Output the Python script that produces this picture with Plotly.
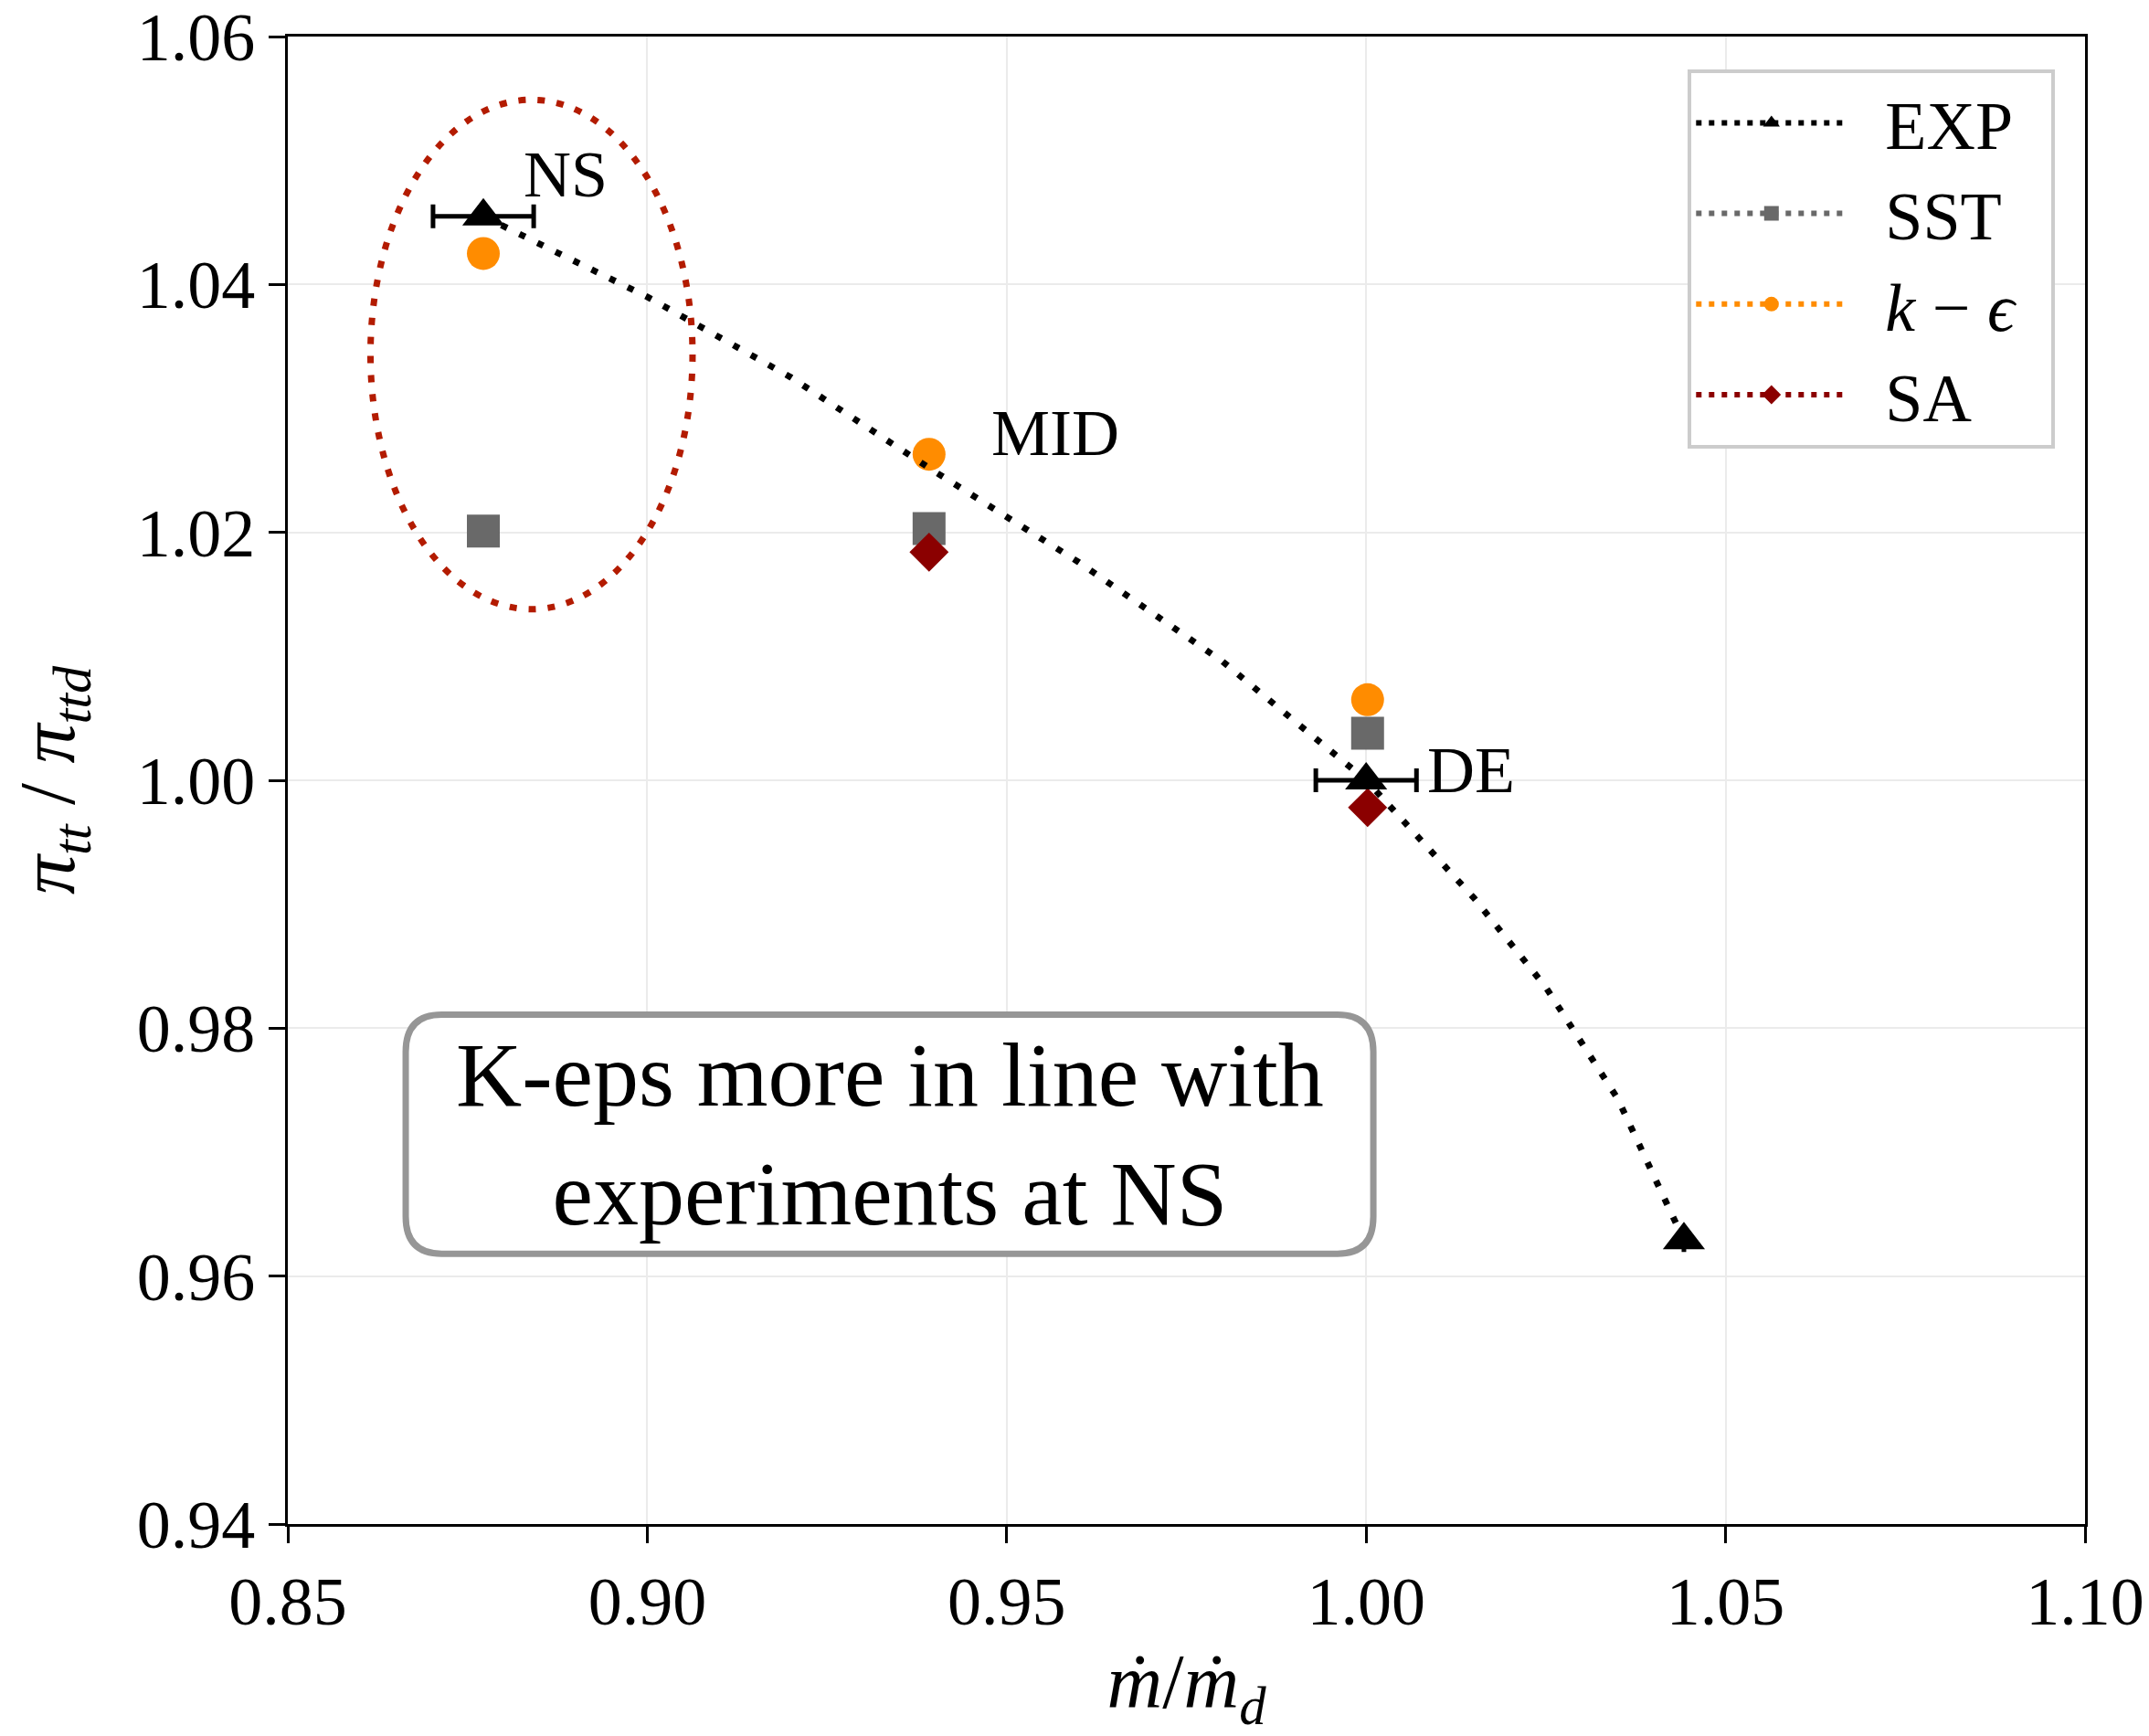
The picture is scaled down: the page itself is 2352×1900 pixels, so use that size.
import plotly.graph_objects as go

# ---------------- data ----------------
exp_x = [0.8772, 1.0000, 1.0442]
exp_y = [1.0455, 1.0000, 0.9629]
exp_err_x = [0.007, 0.007, 0.0]

curve_x = [0.8772, 0.9000, 0.9200, 0.9400, 0.9600, 0.9800, 1.0000, 1.0150, 1.0250, 1.0350, 1.0442]
curve_y = [1.0455, 1.0390, 1.0325, 1.0249, 1.0176, 1.0096, 1.0000, 0.9905, 0.9833, 0.9743, 0.9629]

sst_x = [0.8772, 0.9392, 1.0002]
sst_y = [1.0201, 1.0203, 1.0038]

ke_x = [0.8772, 0.9392, 1.0002]
ke_y = [1.0425, 1.0263, 1.0065]

sa_x = [0.9392, 1.0002]
sa_y = [1.0184, 0.9978]

point_labels = ["NS", "MID", "DE"]
label_x = [0.8825, 0.9476, 1.0082]
label_y = [1.0489, 1.0280, 1.0008]

x_ticks = [0.85, 0.90, 0.95, 1.00, 1.05, 1.10]
y_ticks = [0.94, 0.96, 0.98, 1.00, 1.02, 1.04, 1.06]

note_text = "K-eps more in line with<br>experiments at NS"

# ---------------- style ----------------
FONT = "Liberation Serif, Times New Roman, serif"
C_EXP = "black"
C_SST = "#696969"
C_KE = "#ff8c00"
C_SA = "#8b0000"
C_ELL = "#b31b00"
SP = "\u00a0\u00a0"

fig = go.Figure()

# legend-only entries
legend_specs = [
    (SP + "EXP" + SP, C_EXP, "triangle-up"),
    (SP + "SST", C_SST, "square"),
    (SP + "<i>k</i> − <i>ϵ</i>", C_KE, "circle"),
    (SP + "SA", C_SA, "diamond"),
]
for name, col, sym in legend_specs:
    fig.add_trace(go.Scatter(
        x=[None], y=[None], mode="lines+markers", name=name,
        line=dict(color=col, width=6, dash="6px,8px"),
        marker=dict(symbol=sym, color=col, size=16),
        showlegend=True,
    ))

# data traces
fig.add_trace(go.Scatter(x=sst_x, y=sst_y, mode="markers", showlegend=False,
                         marker=dict(symbol="square", color=C_SST, size=36)))
fig.add_trace(go.Scatter(x=ke_x, y=ke_y, mode="markers", showlegend=False,
                         marker=dict(symbol="circle", color=C_KE, size=36)))
fig.add_trace(go.Scatter(x=sa_x, y=sa_y, mode="markers", showlegend=False,
                         marker=dict(symbol="diamond", color=C_SA, size=33)))
fig.add_trace(go.Scatter(x=curve_x, y=curve_y, mode="lines", showlegend=False,
                         line=dict(color=C_EXP, width=7, dash="7px,15px")))
fig.add_trace(go.Scatter(x=exp_x, y=exp_y, mode="markers", showlegend=False,
                         marker=dict(symbol="triangle-up", color=C_EXP, size=40),
                         error_x=dict(type="data", array=exp_err_x, color="black",
                                      thickness=5, width=13, visible=True)))

# point labels
for t, xx, yy in zip(point_labels, label_x, label_y):
    fig.add_annotation(x=xx, y=yy, text=t, showarrow=False, xanchor="left",
                       yanchor="middle", font=dict(family=FONT, size=72, color="black"))

# ellipse highlighting NS
fig.add_shape(type="circle", xref="x", yref="y",
              x0=0.8615, x1=0.9063, y0=1.0138, y1=1.0549,
              line=dict(color=C_ELL, width=7, dash="8px,13px"), layer="above")

# rounded note box
bx0, bx1, by0, by1 = 0.8664, 1.0010, 0.9618, 0.9811
rx, ry = 0.0050, 0.0030
path = (f"M{bx0+rx},{by1} L{bx1-rx},{by1} Q{bx1},{by1} {bx1},{by1-ry} "
        f"L{bx1},{by0+ry} Q{bx1},{by0} {bx1-rx},{by0} L{bx0+rx},{by0} "
        f"Q{bx0},{by0} {bx0},{by0+ry} L{bx0},{by1-ry} Q{bx0},{by1} {bx0+rx},{by1} Z")
fig.add_shape(type="path", xref="x", yref="y", path=path,
              line=dict(color="#969696", width=7), fillcolor="white", layer="above")
fig.add_annotation(x=(bx0 + bx1) / 2, y=(by0 + by1) / 2, text=note_text, showarrow=False,
                   font=dict(family=FONT, size=100, color="black"), align="center")

axis_common = dict(
    showline=True, linecolor="black", linewidth=3, mirror=True,
    ticks="outside", ticklen=18, tickwidth=3, tickcolor="black",
    showgrid=True, gridcolor="#ebebeb", gridwidth=2, zeroline=False,
    tickfont=dict(family=FONT, size=74, color="black"),
    tickformat=".2f", automargin=False, ticklabeloverflow="allow",
)

fig.update_layout(
    width=2352, height=1900,
    margin=dict(l=315, r=70, t=40, b=232),
    paper_bgcolor="white", plot_bgcolor="white",
    font=dict(family=FONT, color="black"),
    xaxis=dict(range=[0.85, 1.10], tickvals=x_ticks,
               title=dict(text="<i>ṁ</i>/<i>ṁ</i><sub><i>d</i></sub>",
                          font=dict(family=FONT, size=84), standoff=40),
               **axis_common),
    yaxis=dict(range=[0.94, 1.06], tickvals=y_ticks,
               title=dict(text="<i>π</i><sub><i>tt</i></sub> / <i>π</i><sub><i>ttd</i></sub>",
                          font=dict(family=FONT, size=86), standoff=40),
               **axis_common),
    legend=dict(x=0.779, y=0.978, xanchor="left", yanchor="top",
                bgcolor="white", bordercolor="#cccccc", borderwidth=4,
                font=dict(family=FONT, size=74, color="black"),
                itemwidth=165, tracegroupgap=18),
    showlegend=True,
)

fig.write_html("out.html")
